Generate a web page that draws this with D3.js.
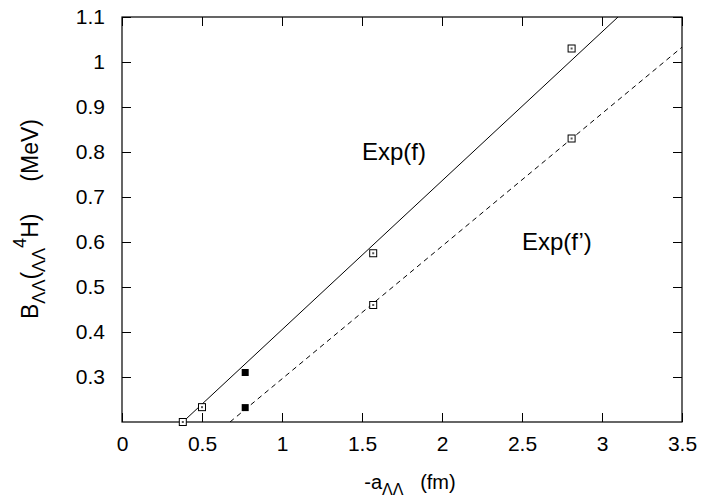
<!DOCTYPE html>
<html lang="en">
  <head>
    <meta charset="UTF-8" />
    <title>B_LL vs -a_LL</title>
    <script src="https://cdn.jsdelivr.net/npm/d3@7"></script>
    <style>
      body { margin: 0; background: #fff; }
      text { font-family: 'Liberation Sans', Arial, sans-serif; fill: #000; }
    </style>
  </head>
  <body>
    <div class="chart"></div>
    <script>
      // data
      var xTicks = [0, 0.5, 1, 1.5, 2, 2.5, 3, 3.5]
      var yTicks = [0.3, 0.4, 0.5, 0.6, 0.7, 0.8, 0.9, 1, 1.1]

      var openX = [0.38, 0.5, 1.57, 1.57, 2.81, 2.81]
      var openY = [0.2, 0.233, 0.575, 0.46, 1.03, 0.83]
      var filledX = [0.77, 0.77]
      var filledY = [0.31, 0.232]

      // fitted lines, end points
      var solidX = [0.38, 3.1]
      var solidY = [0.2, 1.1]
      var dashedX = [0.675, 3.5]
      var dashedY = [0.2, 1.033]

      // curve labels (left edge, vertical centre)
      var labelText = ['Exp(f)', 'Exp(f\u2019)']
      var labelX = [1.5, 2.5]
      var labelY = [0.8, 0.6]

      var W = 715, H = 502
      var m = { left: 122, top: 17, right: 33, bottom: 80 }
      var iw = W - m.left - m.right
      var ih = H - m.top - m.bottom

      var svg = d3.select('.chart').append('svg').attr('width', W).attr('height', H)

      var x = d3.scaleLinear().domain([0, 3.5]).range([0, iw])
      var y = d3.scaleLinear().domain([0.2, 1.1]).range([ih, 0])

      var g = svg.append('g').attr('transform', 'translate(' + m.left + ',' + m.top + ')')

      g.append('clipPath').attr('id', 'clip').append('rect').attr('width', iw).attr('height', ih)

      // axes, ticks pointing inward, mirrored
      var fs = '21px'
      g.append('g').attr('transform', 'translate(0,' + ih + ')')
        .call(d3.axisBottom(x).tickValues(xTicks).tickSize(-9).tickPadding(14).tickFormat(d3.format('')))
      g.append('g')
        .call(d3.axisLeft(y).tickValues(yTicks).tickSize(-9).tickPadding(17).tickFormat(d3.format('')))
      g.append('g').call(d3.axisTop(x).tickValues(xTicks).tickSize(-9).tickFormat(''))
      g.append('g').attr('transform', 'translate(' + iw + ',0)')
        .call(d3.axisRight(y).tickValues(yTicks).tickSize(-9).tickFormat(''))

      g.selectAll('.domain').remove()
      g.selectAll('.tick line').attr('stroke', '#000')
      g.selectAll('.tick text').style('font-size', fs).attr('fill', '#000')
      g.append('rect').attr('width', iw).attr('height', ih)
        .attr('fill', 'none').attr('stroke', '#000').attr('stroke-width', 1.2)

      // lines
      var line = d3.line().x((d) => x(d[0])).y((d) => y(d[1]))
      g.append('path').datum(d3.zip(solidX, solidY)).attr('d', line)
        .attr('clip-path', 'url(#clip)').attr('fill', 'none').attr('stroke', '#000').attr('stroke-width', 1)
      g.append('path').datum(d3.zip(dashedX, dashedY)).attr('d', line)
        .attr('clip-path', 'url(#clip)').attr('fill', 'none').attr('stroke', '#000')
        .attr('stroke-width', 1).attr('stroke-dasharray', '5,4')

      // points
      var s = 7
      g.selectAll('.open').data(d3.zip(openX, openY)).enter().append('rect').attr('class', 'open')
        .attr('x', (d) => x(d[0]) - s / 2).attr('y', (d) => y(d[1]) - s / 2)
        .attr('width', s).attr('height', s)
        .attr('fill', '#fff').attr('stroke', '#000').attr('stroke-width', 1)
      g.selectAll('.dot').data(d3.zip(openX, openY)).enter().append('rect').attr('class', 'dot')
        .attr('x', (d) => x(d[0]) - 1).attr('y', (d) => y(d[1]) - 1)
        .attr('width', 2).attr('height', 2).attr('fill', '#555')
      g.selectAll('.filled').data(d3.zip(filledX, filledY)).enter().append('rect').attr('class', 'filled')
        .attr('x', (d) => x(d[0]) - s / 2).attr('y', (d) => y(d[1]) - s / 2)
        .attr('width', s).attr('height', s).attr('fill', '#000')

      // curve labels
      g.selectAll('.lab').data(d3.zip(labelText, labelX, labelY)).enter().append('text').attr('class', 'lab')
        .attr('x', (d) => x(d[1])).attr('y', (d) => y(d[2]) + 8)
        .style('font-size', '24px').text((d) => d[0])

      // x label
      var xl = svg.append('text').attr('x', m.left + iw / 2 + 8).attr('y', 489)
        .attr('text-anchor', 'middle').style('font-size', '20px')
      xl.append('tspan').text('-a')
      xl.append('tspan').attr('dy', 6).style('font-size', '16px').text('\u039b\u039b')
      xl.append('tspan').attr('dy', -6).text('\u00a0\u00a0\u00a0(fm)')

      // y label
      var yl = svg.append('text')
        .attr('transform', 'translate(38,' + (m.top + 202) + ') rotate(-90)')
        .attr('text-anchor', 'middle').style('font-size', '23px')
      yl.append('tspan').text('B')
      yl.append('tspan').attr('dy', 7).style('font-size', '18px').text('\u039b\u039b')
      yl.append('tspan').attr('dy', -7).text('(')
      yl.append('tspan').attr('dy', 7).style('font-size', '18px').text('\u039b\u039b')
      yl.append('tspan').attr('dy', -19).style('font-size', '18px').text('4')
      yl.append('tspan').attr('dy', 12).text('H)')
      yl.append('tspan').text('\u00a0\u00a0\u00a0\u00a0\u00a0(MeV)')
    </script>
  </body>
</html>
